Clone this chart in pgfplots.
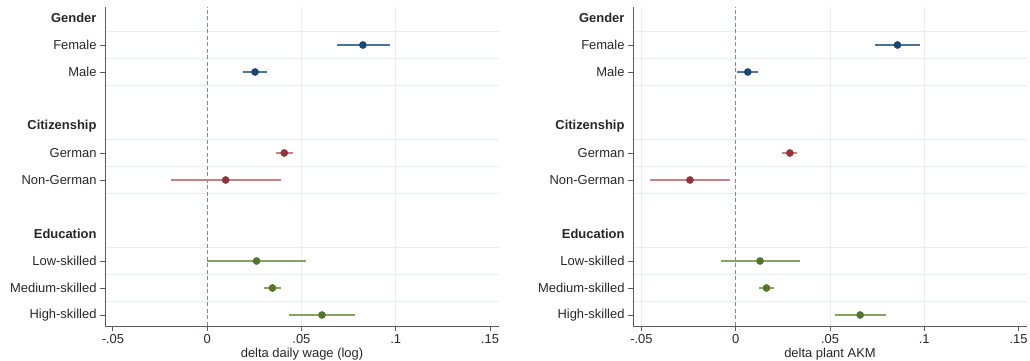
\documentclass[border=0pt]{standalone}
\usepackage{pgfplots}
\usepackage{pgfplotstable}
\pgfplotsset{compat=1.18}
\usepackage{fontspec}
\setmainfont{Liberation Sans}
\definecolor{dblue}{RGB}{26,71,111}
\definecolor{lblue}{RGB}{80,113,150}
\definecolor{dred}{RGB}{144,53,59}
\definecolor{lred}{RGB}{198,128,134}
\definecolor{dgreen}{RGB}{85,117,47}
\definecolor{lgreen}{RGB}{134,163,98}
\definecolor{axgray}{RGB}{90,90,90}
\definecolor{gridc}{RGB}{228,239,241}
\definecolor{zeroc}{RGB}{196,110,125}

% rows: 12=Gender 11=Female 10=Male 8=Citizenship 7=German 6=Non-German 4=Education 3=Low 2=Medium 1=High
% point estimates
\pgfplotstableread{
row est
11 0.0826
10 0.0254
}\estGL
\pgfplotstableread{
row est
7 0.0409
6 0.0098
}\estCL
\pgfplotstableread{
row est
3 0.0262
2 0.0346
1 0.0609
}\estEL
\pgfplotstableread{
row est
11 0.0858
10 0.0064
}\estGR
\pgfplotstableread{
row est
7 0.0287
6 -0.0243
}\estCR
\pgfplotstableread{
row est
3 0.0129
2 0.0163
1 0.0660
}\estER
% confidence intervals (lower, upper end of each row; nan separates rows)
\pgfplotstableread{
x row
0.0688 11
0.0968 11
nan nan
0.0190 10
0.0319 10
}\ciGL
\pgfplotstableread{
x row
0.0363 7
0.0455 7
nan nan
-0.0192 6
0.0390 6
}\ciCL
\pgfplotstableread{
x row
0.0000 3
0.0522 3
nan nan
0.0301 2
0.0393 2
nan nan
0.0432 1
0.0786 1
}\ciEL
\pgfplotstableread{
x row
0.0738 11
0.0980 11
nan nan
0.0007 10
0.0120 10
}\ciGR
\pgfplotstableread{
x row
0.0246 7
0.0325 7
nan nan
-0.0456 6
-0.0030 6
}\ciCR
\pgfplotstableread{
x row
-0.0080 3
0.0340 3
nan nan
0.0124 2
0.0203 2
nan nan
0.0527 1
0.0798 1
}\ciER

\pgfplotsset{
  myax/.style={
    scale only axis, width=394bp, height=319bp,
    ymin=0.59259, ymax=12.40741,
    axis x line*=bottom, axis y line*=left,
    axis line style={color=axgray, line width=1pt, -},
    tick align=outside, major tick length=5bp, minor tick length=0pt,
    tick style={color=axgray, line width=0.9pt},
    /pgf/number format/assume math mode=true,
    tick label style={font=\fontsize{13}{15}\selectfont, color=black!85},
    label style={font=\fontsize{13}{15}\selectfont, color=black!85},
    xtick={-0.05,0,0.05,0.1,0.15},
    xticklabels={-.05,0,.05,.1,.15},
    ytick={1,2,3,6,7,10,11},
    yticklabels={High-skilled,Medium-skilled,Low-skilled,Non-German,German,Male,Female},
    extra y ticks={4,8,12},
    extra y tick labels={\textbf{Education},\textbf{Citizenship},\textbf{Gender}},
    extra y tick style={grid=none, tick style={draw=none}},
    minor ytick={1.5,2.5,3.5,5.5,6.5,7.5,9.5,10.5,11.5},
    yminorgrids=true,
    minor grid style={color=gridc, line width=1.2pt},
    major grid style={color=gridc, line width=1bp},
    extra x tick labels={},
    extra x tick style={grid=major, major tick length=0pt},
    xlabel style={yshift=7bp},
    unbounded coords=jump,
    clip=false,
  },
  cil/.style={#1, line width=2bp, solid, mark=none, line cap=butt},
  est/.style={only marks, mark=*, mark size=3.6bp, mark options={draw=#1, fill=#1, solid}},
}

\begin{document}
\begin{tikzpicture}
\begin{axis}[myax, xmin=-0.0542, xmax=0.1548,
  extra x ticks={0.05,0.1},
  xlabel={delta daily wage (log)}]
  \draw[zeroc, line width=1bp, dash pattern=on 4bp off 2.5bp] (axis cs:0,0.59259) -- (axis cs:0,12.40741);
  \addplot[cil=lblue] table[x=x, y=row] {\ciGL};
  \addplot[cil=lred] table[x=x, y=row] {\ciCL};
  \addplot[cil=lgreen] table[x=x, y=row] {\ciEL};
  \addplot[est=dblue] table[x=est, y=row] {\estGL};
  \addplot[est=dred] table[x=est, y=row] {\estCL};
  \addplot[est=dgreen] table[x=est, y=row] {\estEL};
\end{axis}
\begin{axis}[myax, at={(528bp,0)}, xmin=-0.0545, xmax=0.1545,
  extra x ticks={-0.05,0.05,0.1},
  xlabel={delta plant AKM}]
  \draw[zeroc, line width=1bp, dash pattern=on 4bp off 2.5bp] (axis cs:0,0.59259) -- (axis cs:0,12.40741);
  \addplot[cil=lblue] table[x=x, y=row] {\ciGR};
  \addplot[cil=lred] table[x=x, y=row] {\ciCR};
  \addplot[cil=lgreen] table[x=x, y=row] {\ciER};
  \addplot[est=dblue] table[x=est, y=row] {\estGR};
  \addplot[est=dred] table[x=est, y=row] {\estCR};
  \addplot[est=dgreen] table[x=est, y=row] {\estER};
\end{axis}
\pgfresetboundingbox
\path[use as bounding box] (-105bp,-35bp) rectangle (925bp,326bp);
\end{tikzpicture}
\end{document}
